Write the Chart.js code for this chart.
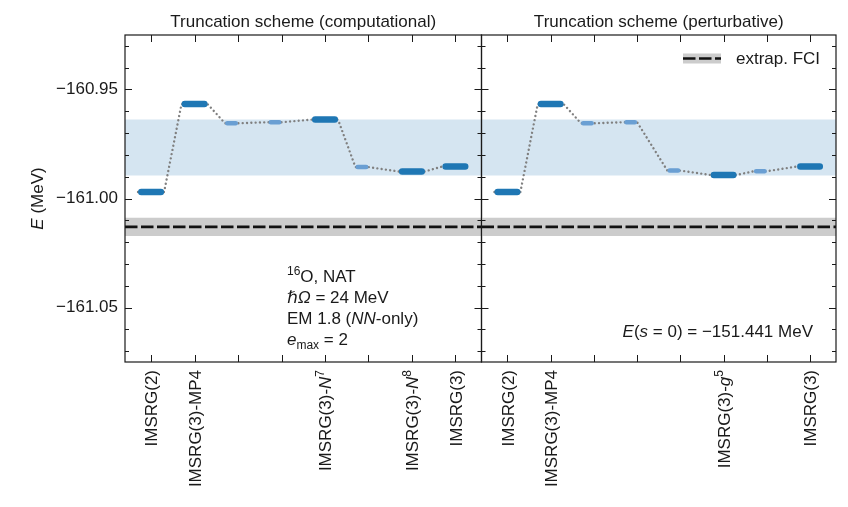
<!DOCTYPE html>
<html><head><meta charset="utf-8">
<script src="https://cdn.jsdelivr.net/npm/chart.js@4/dist/chart.umd.min.js"></script>
<style>
html,body{margin:0;padding:0;background:#fff;}
#wrap{position:relative;width:848px;height:507px;background:#fff;}
canvas{position:absolute;left:0;top:0;}
</style></head><body>
<div id="wrap"><canvas id="c1" width="848" height="507"></canvas><canvas id="c2" width="848" height="507"></canvas></div>
<script>
// ---------------- data ----------------
const positions = [0, 1, 2, 3, 4, 5, 6, 7];
const compValues = [-160.9970, -160.9567, -160.9655, -160.9650, -160.9638, -160.9856, -160.9876, -160.9853];
const compKinds  = ['main', 'main', 'sub', 'sub', 'main', 'sub', 'main', 'main'];
const pertValues = [-160.9970, -160.9567, -160.9655, -160.9650, -160.9872, -160.9892, -160.9875, -160.9853];
const pertKinds  = ['main', 'main', 'sub', 'sub', 'sub', 'main', 'sub', 'main'];
const compTickPos = [0, 1, 4, 6, 7];
const compTickLabels = ['IMSRG(2)', 'IMSRG(3)-MP4', 'IMSRG(3)-*N*^{7}', 'IMSRG(3)-*N*^{8}', 'IMSRG(3)'];
const pertTickPos = [0, 1, 5, 7];
const pertTickLabels = ['IMSRG(2)', 'IMSRG(3)-MP4', 'IMSRG(3)-*g*^{5}', 'IMSRG(3)'];
const bandRange = [-160.9894, -160.9638];      // shaded blue band
const fciValue = -161.0130;                     // extrap. FCI
const fciRange = [-161.0172, -161.0088];        // FCI uncertainty
const yMajorTicks = [-161.05, -161.00, -160.95];
const yMinorTicks = [-161.07, -161.06, -161.04, -161.03, -161.02, -161.01, -160.99, -160.98, -160.97, -160.96, -160.94, -160.93];
const xTicks = [0, 1, 2, 3, 4, 5, 6, 7];
const panelTitles = ['Truncation scheme (computational)', 'Truncation scheme (perturbative)'];
const annoLeft = ['^{16}O, NAT', '*ℏΩ* = 24 MeV', 'EM 1.8 (*NN*-only)', '*e*_{max} = 2'];
const annoRight = '*E*(*s* = 0) = −151.441 MeV';
const yAxisTitle = '*E* (MeV)';
const legendLabel = 'extrap. FCI';
const xRange = [-0.6, 7.6];
const yRange = [-161.075, -160.925];

// ---------------- helpers ----------------
const FAM = '"Liberation Sans", "DejaVu Sans", sans-serif';
const INK = '#1a1a1a';
function parseRich(s){
  const segs=[]; let italic=false; let cur=''; let i=0;
  const push=()=>{ if(cur){ segs.push({t:cur,it:italic,mode:'n'}); cur=''; } };
  while(i<s.length){
    const c=s[i];
    if(c==='*'){ push(); italic=!italic; i++; continue; }
    if((c==='^'||c==='_') && s[i+1]==='{'){ push(); const j=s.indexOf('}',i); segs.push({t:s.slice(i+2,j),it:false,mode:c==='^'?'sup':'sub'}); i=j+1; continue; }
    cur+=c; i++;
  }
  push(); return segs;
}
function segFont(g,size){ const sz = g.mode==='n'?size:Math.round(size*0.7); return (g.it?'italic ':'')+sz+'px '+FAM; }
function drawRich(ctx,s,x,y,size,align){
  const segs=parseRich(s); let w=0;
  segs.forEach(g=>{ ctx.font=segFont(g,size); g.w=ctx.measureText(g.t).width; w+=g.w; });
  let cx = align==='right'? x-w : align==='center'? x-w/2 : x;
  ctx.textAlign='left'; ctx.textBaseline='alphabetic'; ctx.fillStyle=INK;
  segs.forEach(g=>{ ctx.font=segFont(g,size); const dy = g.mode==='sup'? -0.42*size : g.mode==='sub'? 0.25*size : 0; ctx.fillText(g.t,cx,y+dy); cx+=g.w; });
}

function buildDatasets(values, kinds){
  const pxPerUnit = 43.4, mainW = 6.5, subW = 4.5;
  const mainCap = mainW/2/pxPerUnit, subCap = subW/2/pxPerUnit;
  const main=[], sub=[], dots=[];
  values.forEach((v,i)=>{
    const p = positions[i];
    if(kinds[i]==='main'){
      const a=p-0.3, b=p+0.3;
      main.push({x:a+mainCap,y:v},{x:b-mainCap,y:v},{x:p,y:null});
      dots.push({x:a,y:v},{x:b,y:v});
    } else {
      const a=p-0.3, b=p;
      sub.push({x:a+subCap,y:v},{x:b-subCap,y:v},{x:p,y:null});
      dots.push({x:a,y:v},{x:b,y:v});
    }
  });
  const common = {pointRadius:0, tension:0, borderCapStyle:'round', spanGaps:false, fill:false};
  return [
    Object.assign({label:'main', data:main, borderColor:'#1f77b4', borderWidth:mainW, order:0}, common),
    Object.assign({label:'sub', data:sub, borderColor:'#6a9fd3', borderWidth:subW, order:0}, common),
    Object.assign({}, common, {label:'conn', data:dots, borderColor:'#808080', borderWidth:2.4, borderDash:[0.01,4.3], borderCapStyle:'round', order:1}),
    Object.assign({}, common, {label:'fci', data:[{x:xRange[0],y:fciValue},{x:xRange[1],y:fciValue}], borderColor:'#111111', borderWidth:2.6, borderDash:[12.5,3.5], borderCapStyle:'butt', order:2}),
    Object.assign({}, common, {label:'fciband', data:[{x:xRange[0],y:fciRange[1]},{x:xRange[1],y:fciRange[1]}], borderWidth:0, borderColor:'rgba(0,0,0,0)', backgroundColor:'#cccccc', fill:{value:fciRange[0]}, order:3}),
    Object.assign({}, common, {label:'band', data:[{x:xRange[0],y:bandRange[1]},{x:xRange[1],y:bandRange[1]}], borderWidth:0, borderColor:'rgba(0,0,0,0)', backgroundColor:'rgba(31,119,180,0.19)', fill:{value:bandRange[0]}, order:4})
  ];
}

function decoPlugin(cfg){
  return {
    id:'deco'+cfg.idx,
    afterDraw(chart){
      const ctx=chart.ctx, a=chart.chartArea, xs=chart.scales.x, ys=chart.scales.y;
      ctx.save();
      // frame
      ctx.strokeStyle=INK; ctx.lineWidth=1.2;
      ctx.strokeRect(a.left, a.top, a.right-a.left, a.bottom-a.top);
      // ticks
      ctx.lineWidth=1;
      ctx.beginPath();
      xTicks.forEach(t=>{ const px=Math.round(xs.getPixelForValue(t))+0.5;
        ctx.moveTo(px,a.top); ctx.lineTo(px,a.top+7);
        ctx.moveTo(px,a.bottom); ctx.lineTo(px,a.bottom-7); });
      yMajorTicks.forEach(t=>{ const py=Math.round(ys.getPixelForValue(t))+0.5;
        ctx.moveTo(a.left,py); ctx.lineTo(a.left+7,py);
        ctx.moveTo(a.right,py); ctx.lineTo(a.right-7,py); });
      yMinorTicks.forEach(t=>{ const py=Math.round(ys.getPixelForValue(t))+0.5;
        ctx.moveTo(a.left,py); ctx.lineTo(a.left+4,py);
        ctx.moveTo(a.right,py); ctx.lineTo(a.right-4,py); });
      ctx.stroke();
      // x tick labels (rotated)
      cfg.tickPos.forEach((p,i)=>{
        const px=xs.getPixelForValue(p);
        ctx.save(); ctx.translate(px + 0.36*17, a.bottom+8); ctx.rotate(-Math.PI/2);
        drawRich(ctx, cfg.tickLabels[i], 0, 0, 17, 'right');
        ctx.restore();
      });
      // title
      drawRich(ctx, cfg.title, (a.left+a.right)/2, 27, 17, 'center');
      if(cfg.idx===0){
        // y axis title
        ctx.save(); ctx.translate(43, (a.top+a.bottom)/2); ctx.rotate(-Math.PI/2);
        drawRich(ctx, yAxisTitle, 0, 0, 17, 'center'); ctx.restore();
        const base=[282, 302.5, 323.5, 344.5];
        annoLeft.forEach((s,i)=>drawRich(ctx, s, 287, base[i], 17, 'left'));
      } else {
        drawRich(ctx, annoRight, 813, 337, 17, 'right');
        // legend
        const lx0=683, lx1=721, ly=58.5;
        ctx.fillStyle='#cccccc'; ctx.fillRect(lx0, ly-5, lx1-lx0, 10);
        ctx.strokeStyle='#111111'; ctx.lineWidth=2.6; ctx.setLineDash([12.5,3.5]);
        ctx.beginPath(); ctx.moveTo(lx0,ly); ctx.lineTo(lx1,ly); ctx.stroke(); ctx.setLineDash([]);
        ctx.fillStyle=INK; ctx.font='17px '+FAM; ctx.textBaseline='middle'; ctx.textAlign='left';
        ctx.fillText(legendLabel, 736, ly+0.5);
      }
      ctx.restore();
    }
  };
}

function makeChart(id, idx, values, kinds, tickPos, tickLabels, padL, padR){
  const showY = idx===0;
  return new Chart(document.getElementById(id), {
    type:'line',
    data:{datasets: buildDatasets(values, kinds)},
    options:{
      responsive:false, animation:false, devicePixelRatio:1, events:[],
      layout:{padding:{left:padL, right:padR, top:35, bottom:145}},
      plugins:{legend:{display:false}, tooltip:{enabled:false}, title:{display:false}},
      scales:{
        x:{type:'linear', min:xRange[0], max:xRange[1], display:false},
        y:{type:'linear', min:yRange[0], max:yRange[1], display:showY, position:'left',
           grid:{display:false, drawTicks:false}, border:{display:false},
           afterBuildTicks: s=>{ s.ticks = yMajorTicks.map(v=>({value:v})); },
           afterFit: s=>{ s.width = showY ? 125 : 0; },
           ticks:{font:{family:FAM, size:17}, color:INK, padding:7,
                  callback: v=> '\u2212' + Math.abs(v).toFixed(2)}}
      }
    },
    plugins:[decoPlugin({idx, tickPos, tickLabels, title:panelTitles[idx]})]
  });
}

makeChart('c1', 0, compValues, compKinds, compTickPos, compTickLabels, 0, 848-481.5);
makeChart('c2', 1, pertValues, pertKinds, pertTickPos, pertTickLabels, 481.5, 12);
</script>
</body></html>
